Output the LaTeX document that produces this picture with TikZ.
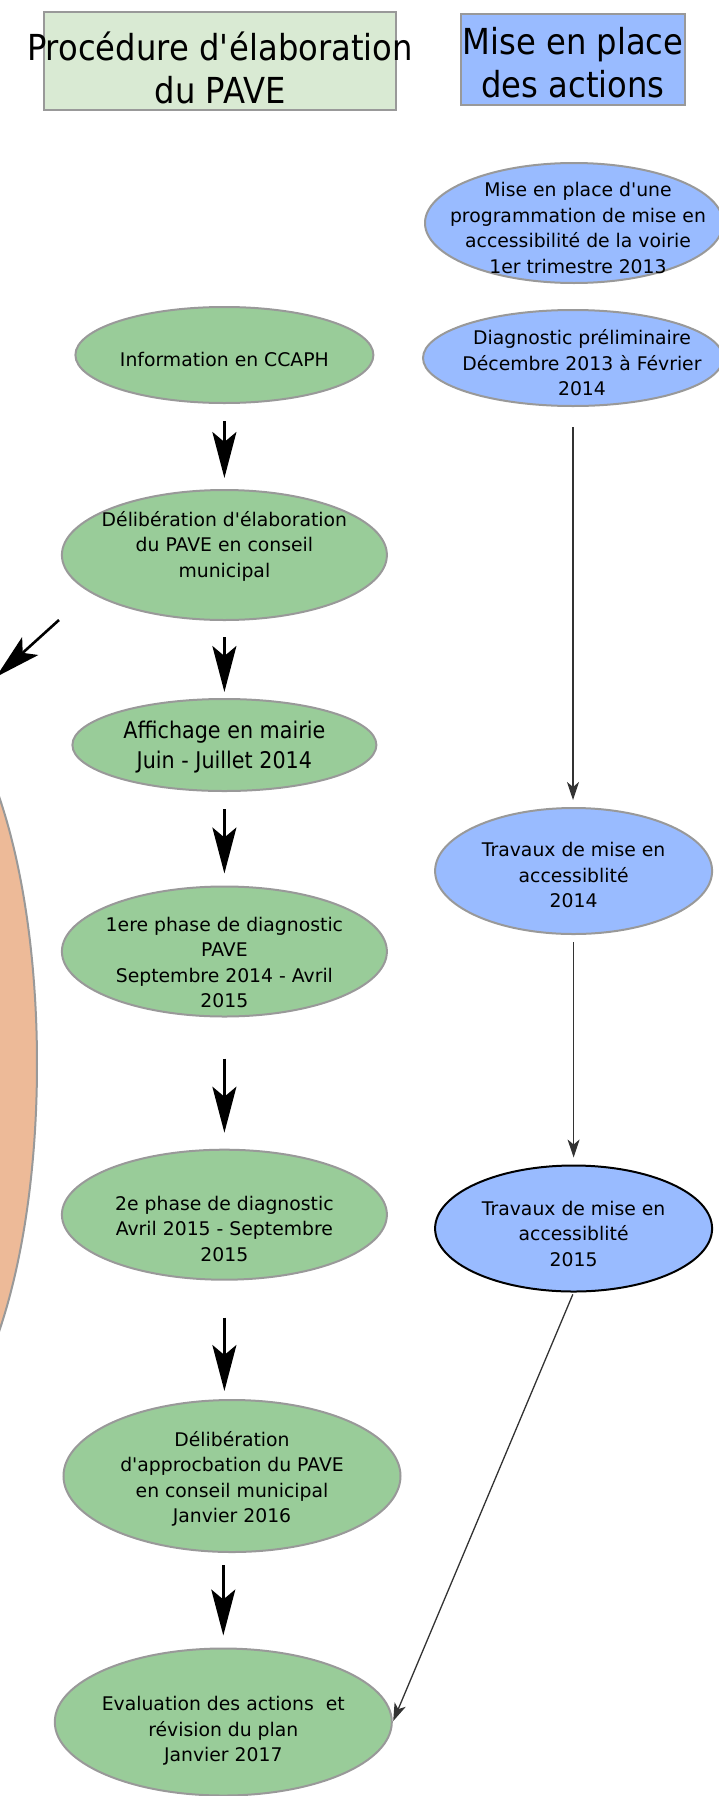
\documentclass[tikz,border=0pt]{standalone}
\usepackage{fontspec}
\setmainfont{DejaVu Sans}
\newfontfamily\condensed{DejaVu Sans}[FakeStretch=0.9]
\usetikzlibrary{shapes.geometric,arrows.meta}
\definecolor{stagefill}{RGB}{153,204,153}
\definecolor{actionfill}{RGB}{153,187,255}
\definecolor{headfill}{RGB}{217,234,211}
\definecolor{bilanfill}{RGB}{237,186,152}
\definecolor{rim}{RGB}{153,153,153}
\newcommand{\ap}{\textquotesingle}

\begin{document}
\begin{tikzpicture}[x=1pt, y=-1pt,
  font=\fontsize{18.8}{25.5}\selectfont,
  title/.style={rectangle, draw=rim, line width=2pt, inner sep=0pt},
  titletxt/.style={align=center, inner sep=0pt, font=\condensed\fontsize{35.8}{43}\selectfont},
  stage/.style={ellipse, draw=rim, line width=2pt, fill=stagefill, inner sep=0pt},
  action/.style={stage, fill=actionfill},
  txt/.style={align=center, inner sep=0pt},
  flow/.style={-{Stealth[length=46pt, width=24pt, inset=10pt]}, line width=2.6pt},
  link/.style={-{Stealth[length=18pt, width=12pt, inset=5pt]}, line width=1.3pt, draw=black!80}
]
\useasboundingbox (0,0) rectangle (719,1796);
\clip (0,0) rectangle (719,1796);

% Column headers
\node[title, fill=headfill, minimum width=352pt, minimum height=98pt,
      label={[titletxt, yshift=-7pt]center:{Procédure d\ap élaboration\\du PAVE}}]
  (proc) at (220,61) {};
\node[title, fill=actionfill, minimum width=224pt, minimum height=91pt,
      label={[titletxt, yshift=-3pt]center:{Mise en place\\des actions}}]
  (mise) at (573,59.5) {};

% Right part of the large ellipse on the left edge
\node[ellipse, draw=rim, line width=2pt, fill=bilanfill, inner sep=0pt,
      minimum width=262pt, minimum height=760pt] (bilan) at (-94,1064) {};
\coordinate (cue) at (59,620);
\coordinate (cueend) at (-4,677);

% PAVE procedure
\node[stage, minimum width=298pt, minimum height=96pt,
      label={[txt, yshift=-4pt]center:{Information en CCAPH}}]
  (info) at (224.4,355) {};
\node[stage, minimum width=325pt, minimum height=130pt,
      label={[txt, yshift=9pt]center:{Délibération d\ap élaboration\\du PAVE en conseil\\municipal}}]
  (delib) at (224.4,555) {};
\node[stage, minimum width=304pt, minimum height=92pt,
      label={[txt, yshift=-2pt, font=\condensed\fontsize{23}{30.5}\selectfont]center:{Affichage en mairie\\Juin - Juillet 2014}}]
  (affiche) at (224.4,745) {};
\node[stage, minimum width=325pt, minimum height=130pt,
      label={[txt, yshift=-11pt]center:{1ere phase de diagnostic\\PAVE\\Septembre 2014 - Avril\\2015}}]
  (phase1) at (224.4,951.5) {};
\node[stage, minimum width=325pt, minimum height=130pt,
      label={[txt, yshift=-14pt]center:{2e phase de diagnostic\\Avril 2015 - Septembre\\2015}}]
  (phase2) at (224.4,1214.7) {};
\node[stage, minimum width=337pt, minimum height=152pt,
      label={[txt, yshift=-3pt]center:{Délibération\\d\ap approcbation du PAVE\\en conseil municipal\\Janvier 2016}}]
  (approb) at (232,1476) {};
\node[stage, minimum width=337pt, minimum height=147pt,
      label={[txt, yshift=-9pt]center:{Evaluation des actions~ et\\révision du plan\\Janvier 2017}}]
  (eval) at (223.3,1722) {};

% Actions
\node[action, minimum width=298pt, minimum height=120pt,
      label={[txt, xshift=4pt, yshift=-5pt]center:{Mise en place d\ap une\\programmation de mise en\\accessibilité de la voirie\\1er trimestre 2013}}]
  (prog) at (574,223) {};
\node[action, minimum width=300pt, minimum height=96pt,
      label={[txt, xshift=9pt, yshift=-5pt]center:{Diagnostic préliminaire\\Décembre 2013 à Février\\2014}}]
  (prelim) at (573,358) {};
\node[action, minimum width=277pt, minimum height=126pt,
      label={[txt, yshift=-4pt]center:{Travaux de mise en\\accessiblité\\2014}}]
  (trav14) at (573.6,871) {};
\node[action, draw=black, minimum width=277pt, minimum height=126pt,
      label={[txt, yshift=-5pt]center:{Travaux de mise en\\accessiblité\\2015}}]
  (trav15) at (573.6,1228.5) {};

% Arrows
\draw[flow, shorten <=17pt, shorten >=11pt] (info) -- (delib);
\draw[flow, shorten <=16pt, shorten >=6pt] (delib) -- (affiche);
\draw[flow, shorten <=17pt, shorten >=12pt] (affiche) -- (phase1);
\draw[flow, shorten <=41pt, shorten >=16pt] (phase1) -- (phase2);
\draw[flow, shorten <=37pt, shorten >=8pt] (phase2.south) -- (phase2.south |- approb.north);
\draw[flow, shorten <=12pt, shorten >=12pt] (approb.south -| eval.north) -- (eval.north);
\draw[flow] (cue) -- (cueend);

\draw[link, shorten <=20pt, shorten >=7pt] (prelim.south) -- (prelim.south |- trav14.north);
\draw[link, shorten <=7pt, shorten >=7pt] (trav14) -- (trav15);
\draw[link, shorten <=2pt, shorten >=1pt] (trav15.south) -- (eval.east);

\end{tikzpicture}
\end{document}
